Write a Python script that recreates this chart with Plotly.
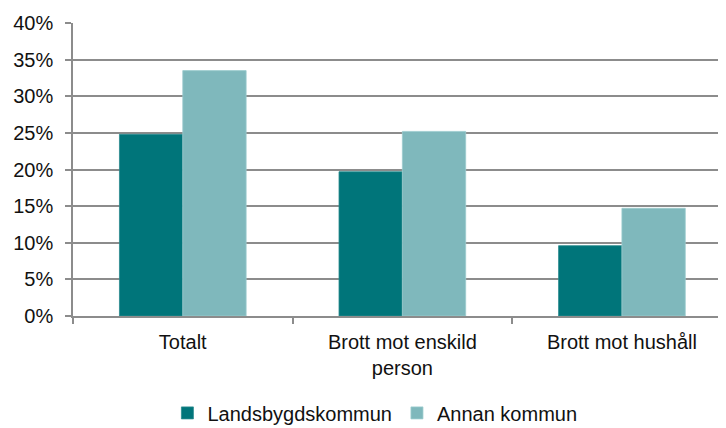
import plotly.graph_objects as go

categories = ["Totalt", "Brott mot enskild<br>person", "Brott mot hushåll"]
landsbygd = [0.248, 0.197, 0.096]
annan = [0.335, 0.252, 0.147]
series_names = ["Landsbygdskommun", "Annan kommun"]
tick_vals = [0, 0.05, 0.10, 0.15, 0.20, 0.25, 0.30, 0.35, 0.40]
tick_text = ["0%", "5%", "10%", "15%", "20%", "25%", "30%", "35%", "40%"]

FONT = "Liberation Sans, Arial, Helvetica, sans-serif"

fig = go.Figure()
fig.add_trace(go.Bar(x=categories, y=landsbygd, name=series_names[0],
                     marker=dict(color="#00757A", line=dict(color="#2a8a8e", width=0.8))))
fig.add_trace(go.Bar(x=categories, y=annan, name=series_names[1],
                     marker=dict(color="#7FB8BC", line=dict(color="#9ccbce", width=0.8))))

# page body has an 8px margin, so the figure is drawn 8px smaller and offset
fig.update_layout(
    width=718, height=420,
    margin=dict(l=65, r=0, t=15, b=112, autoexpand=False),
    paper_bgcolor="white", plot_bgcolor="white",
    barmode="group", bargap=0.423, bargroupgap=0,
    font=dict(family=FONT, size=20, color="#111111"),
    showlegend=True,
    legend=dict(orientation="h", x=0.511, xanchor="center", xref="container",
                y=0.036, yanchor="middle", yref="container",
                font=dict(size=20), traceorder="normal"),
    xaxis=dict(range=[-0.5, 2.474], showline=True, linecolor="#8c8c8c", linewidth=1.5,
               ticks="outside", tickson="boundaries", ticklen=6, tickcolor="#8c8c8c",
               tickwidth=1.5, showgrid=False, tickfont=dict(size=20),
               automargin=False, ticklabelstandoff=7),
    yaxis=dict(range=[0, 0.40], tickvals=tick_vals, ticktext=tick_text,
               showline=True, linecolor="#8c8c8c", linewidth=1.5,
               ticks="outside", ticklen=6, tickcolor="#8c8c8c", tickwidth=1.5,
               showgrid=True, gridcolor="#8c8c8c", gridwidth=1.5,
               zeroline=False, ticklabelstandoff=8, tickfont=dict(size=20),
               automargin=False),
)

fig.write_html("out.html")
